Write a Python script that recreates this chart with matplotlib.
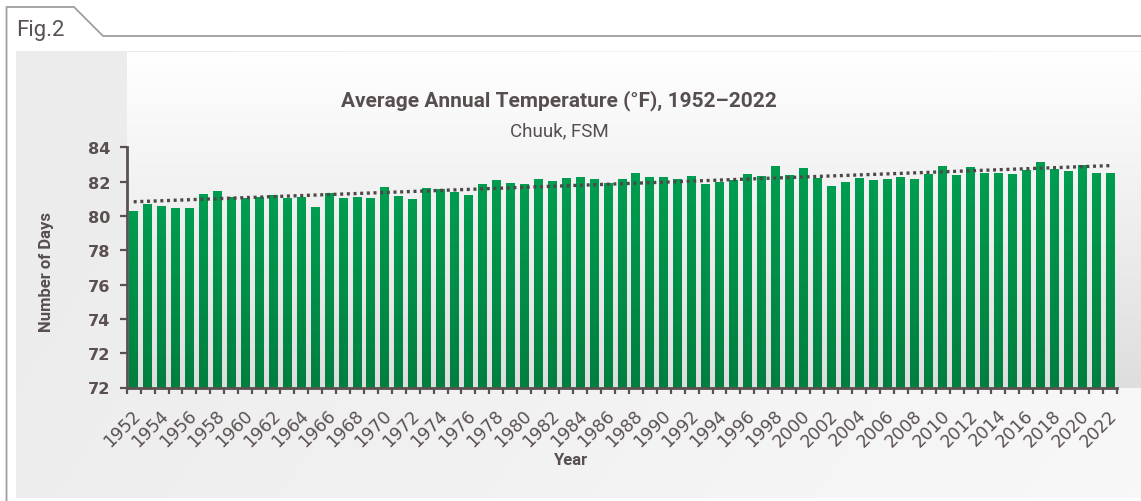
"""Average annual temperature bar chart, Chuuk FSM 1952-2022."""

import matplotlib
matplotlib.use("Agg")
import matplotlib.pyplot as plt
import matplotlib.transforms as mtransforms
import numpy as np
from matplotlib.colors import LinearSegmentedColormap
from matplotlib.lines import Line2D

W, H = 1141, 502
TEXT = "#574f4f"
AXIS = "#5a5050"

years = np.arange(1952, 2023)
temps = np.array([
    80.3, 80.7, 80.6, 80.45, 80.45, 81.3, 81.45, 81.1, 81.05, 81.1,
    81.2, 81.05, 81.1, 80.5, 81.35, 81.05, 81.1, 81.05, 81.7, 81.15,
    81.0, 81.6, 81.55, 81.4, 81.2, 81.85, 82.1, 81.9, 81.85, 82.15,
    82.05, 82.2, 82.25, 82.15, 81.9, 82.15, 82.5, 82.25, 82.25, 82.15,
    82.35, 81.85, 82.0, 82.1, 82.45, 82.3, 82.9, 82.4, 82.8, 82.2,
    81.75, 82.0, 82.2, 82.1, 82.15, 82.25, 82.15, 82.45, 82.9, 82.4,
    82.85, 82.5, 82.5, 82.45, 82.7, 83.15, 82.75, 82.6, 82.95, 82.5,
    82.5,
])
ytick_values = [84, 82, 80, 78, 76, 74, 72, 70]
ytick_labels = ["84", "82", "80", "78", "76", "74", "72", "72"]
xtick_years = years[::2]

TITLE = "Average Annual Temperature (°F), 1952–2022"
SUBTITLE = "Chuuk, FSM"


def px_box(x0, y0, x1, y1):
    """Pixel box (top-down y) -> figure fraction [left, bottom, width, height]."""
    return [x0 / W, 1 - y1 / H, (x1 - x0) / W, (y1 - y0) / H]


fig = plt.figure(figsize=(W / 100, H / 100), dpi=100, facecolor="white")

# chart area: light grey, lighter toward the right
bg = fig.add_axes(px_box(16, 52, 1141, 499), zorder=0)
gx, gy = np.meshgrid(np.linspace(0, 1, 256), np.linspace(0, 1, 64))
bg_cmap = LinearSegmentedColormap.from_list("bg", ["#ecebec", "#f8f8f8"])
bg.imshow(0.8 * gx + 0.2 * gy, cmap=bg_cmap, aspect="auto", extent=[0, 1, 0, 1], vmin=0, vmax=1)
bg.set_axis_off()

# plot area: white at the top fading to grey
pa = fig.add_axes(px_box(127, 53, 1141, 389), zorder=1)
pa_cmap = LinearSegmentedColormap.from_list("pa", ["#ffffff", "#dedede"])
pa.imshow(np.linspace(0, 1, 256).reshape(-1, 1), cmap=pa_cmap, aspect="auto", extent=[0, 1, 0, 1])
pa.set_axis_off()

ax = fig.add_axes(px_box(126.7, 148.3, 1117, 388.5), zorder=2)
ax.patch.set_alpha(0)

bars = ax.bar(years, temps, width=0.62, color="#00924a", zorder=2)
bar_cmap = LinearSegmentedColormap.from_list("bar", ["#007f40", "#009d50"])
grad = np.linspace(0, 1, 128).reshape(-1, 1)
for bar in bars:
    x0 = bar.get_x()
    im = ax.imshow(grad, cmap=bar_cmap, origin="lower", aspect="auto",
                   extent=[x0, x0 + bar.get_width(), 70, bar.get_height()], zorder=3)
    im.set_clip_path(bar)

slope, intercept = np.polyfit(years, temps, 1)
ax.plot(years, slope * years + intercept, color="#4f4747", lw=2.4,
        ls=(0, (0.9, 1.1)), zorder=4)

ax.set_xlim(years[0] - 0.5, years[-1] + 0.5)
ax.set_ylim(70, 84)

for side in ["top", "right"]:
    ax.spines[side].set_visible(False)
for side in ["left", "bottom"]:
    ax.spines[side].set_color(AXIS)
    ax.spines[side].set_linewidth(2)
    ax.spines[side].set_zorder(5)

ax.set_yticks(ytick_values)
ax.set_yticklabels(ytick_labels, fontsize=11.6, fontweight="bold", color=AXIS)
ax.tick_params(axis="y", length=5, width=1.6, color=AXIS, pad=7)

ax.set_xticks(np.arange(years[0] - 0.5, years[-1] + 1), minor=True)
ax.set_xticks(xtick_years)
ax.set_xticklabels([str(y) for y in xtick_years], fontsize=12.5, color=AXIS,
                   rotation=45, ha="right", va="top", rotation_mode="anchor")
ax.tick_params(axis="x", which="major", length=0, pad=13)
ax.tick_params(axis="x", which="minor", length=4, width=1.6, color=AXIS)
offset = mtransforms.ScaledTranslation(-2 / 100, 0, fig.dpi_scale_trans)
for label in ax.get_xticklabels():
    label.set_transform(label.get_transform() + offset)

fig.text(559 / W, 1 - 101 / H, TITLE, ha="center", va="center", fontsize=15,
         fontweight="bold", color=TEXT, family="Roboto")
fig.text(559 / W, 1 - 131 / H, SUBTITLE, ha="center", va="center", fontsize=13.5,
         color=TEXT, family="Roboto")
fig.text(47 / W, 1 - 272 / H, "Number of Days", ha="center", va="center", rotation=90,
         fontsize=12, fontweight="bold", color=TEXT, family="Roboto")
fig.text(570 / W, 1 - 461 / H, "Year", ha="center", va="center", fontsize=12,
         fontweight="bold", color=TEXT, family="Roboto")

# tab-shaped frame with the figure number
xs = np.array([6.5, 6.5, 74, 103, 1141])
ys = np.array([502, 8, 8, 37, 37])
fig.add_artist(Line2D(xs / W, 1 - ys / H, color="#a39d9d", lw=1.3,
                      transform=fig.transFigure))
fig.text(16 / W, 1 - 31 / H, "Fig.2", ha="left", va="center", fontsize=16,
         color="#5a5252", family="Roboto")

fig.savefig("out.png", dpi=100, facecolor="white")
